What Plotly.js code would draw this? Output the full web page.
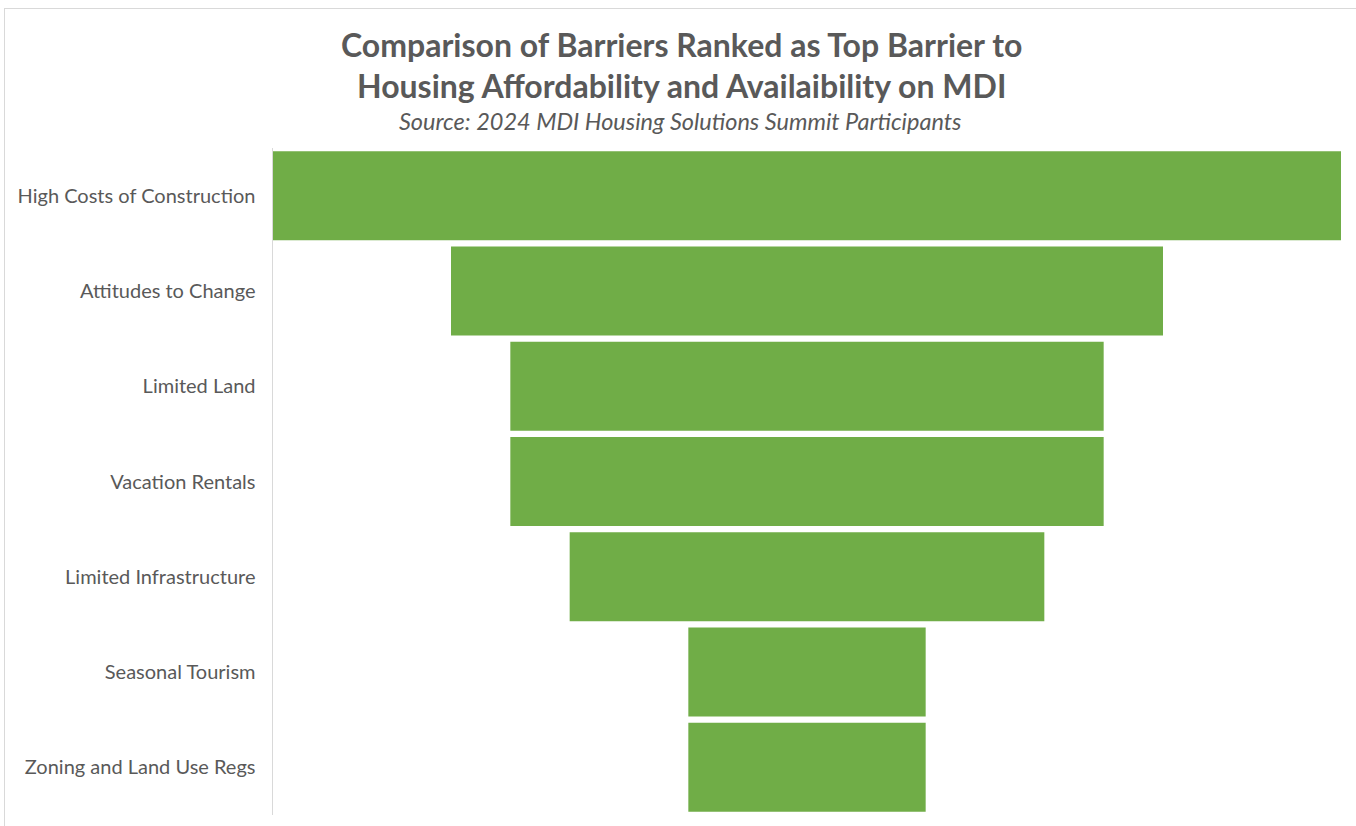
<!DOCTYPE html>
<html>
<head>
<meta charset="utf-8">
<script src="https://cdn.plot.ly/plotly-3.0.1.min.js"></script>
<style>
  html, body { margin: 0; padding: 0; background: #fff; }
  #wrap { position: relative; width: 1356px; height: 826px; overflow: hidden; }
  #chart { width: 1356px; height: 826px; }
  #frame { position: absolute; left: 4px; top: 8px; width: 1400px; height: 900px;
           border-left: 1px solid #d9d9d9; border-top: 1px solid #d9d9d9; pointer-events: none; }
</style>
</head>
<body>
<div id="wrap">
  <div id="chart"></div>
  <div id="frame"></div>
</div>
<script>
const barriers = [
  "High Costs of Construction",
  "Attitudes to Change",
  "Limited Land",
  "Vacation Rentals",
  "Limited Infrastructure",
  "Seasonal Tourism",
  "Zoning and Land Use Regs"
];
const topBarrierCounts = [9, 6, 5, 5, 4, 2, 2];

const titleLine1 = "Comparison of Barriers Ranked as Top Barrier to";
const titleLine2 = "Housing Affordability and Availaibility on MDI";
const subtitleText = "Source: 2024 MDI Housing Solutions Summit Participants";

const maxVal = Math.max(...topBarrierCounts);

const plotTop = 148, plotBottom = 815, plotLeft = 273, plotRight = 1341;
const py = px => (plotBottom - px) / (plotBottom - plotTop);
const pxX = px => (px - plotLeft) / (plotRight - plotLeft);

const trace = {
  type: "funnel",
  y: barriers,
  x: topBarrierCounts,
  textinfo: "none",
  marker: { color: "#70AD47", line: { width: 0 } },
  connector: { visible: false },
  hoverinfo: "y+x"
};

const layout = {
  width: 1356,
  height: 826,
  margin: { l: plotLeft, r: 1356 - plotRight, t: plotTop, b: 826 - plotBottom },
  paper_bgcolor: "#ffffff",
  plot_bgcolor: "#ffffff",
  funnelgap: 0.066,
  showlegend: false,
  font: { family: "Lato, 'Open Sans', sans-serif", color: "#595959" },
  title: { text: "" },
  annotations: [
    {
      text: "<b>" + titleLine1 + "</b>",
      xref: "paper", yref: "paper", x: pxX(681), y: py(45),
      xanchor: "center", yanchor: "middle", showarrow: false,
      font: { family: "Lato, sans-serif", size: 32, color: "#595959" }
    },
    {
      text: "<b>" + titleLine2 + "</b>",
      xref: "paper", yref: "paper", x: pxX(681), y: py(86),
      xanchor: "center", yanchor: "middle", showarrow: false,
      font: { family: "Lato, sans-serif", size: 32, color: "#595959" }
    },
    {
      text: "<i>" + subtitleText + "</i>",
      xref: "paper", yref: "paper", x: pxX(680), y: py(121),
      xanchor: "center", yanchor: "middle", showarrow: false,
      font: { family: "Lato, sans-serif", size: 23.5, color: "#595959" }
    }
  ],
  xaxis: {
    visible: false,
    range: [-maxVal / 2, maxVal / 2],
    fixedrange: true
  },
  yaxis: {
    type: "category",
    range: [barriers.length - 0.5, -0.5],
    autorange: false,
    showline: true,
    linecolor: "#d9d9d9",
    linewidth: 1.5,
    showgrid: false,
    zeroline: false,
    ticks: "",
    ticklabelstandoff: 12,
    tickfont: { family: "Lato, sans-serif", size: 20, color: "#595959" }
  }
};

Plotly.newPlot("chart", [trace], layout, { displayModeBar: false, staticPlot: true });
</script>
</body>
</html>
